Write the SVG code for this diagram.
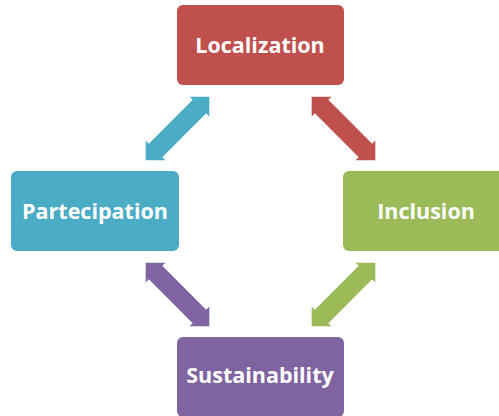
<svg xmlns="http://www.w3.org/2000/svg" width="499" height="416" viewBox="0 0 499 416">
<style>
.lbl{font-family:"Open Sans","Liberation Sans",sans-serif;font-weight:bold;font-size:21.5px;fill:#fff;text-anchor:middle}
</style>
<defs>
<polygon id="arr" points="-45,0 -31,-14 -31,-9.5 31,-9.5 31,-14 45,0 31,14 31,9.5 -31,9.5 -31,14"/>
</defs>
<rect width="499" height="416" fill="#fff"/>
<g id="connectors">
<use href="#arr" fill="#4BACC6" transform="translate(177.5,128.5) rotate(-45)"/>
<use href="#arr" fill="#C0504D" transform="translate(343.5,128.5) rotate(45)"/>
<use href="#arr" fill="#8064A2" transform="translate(177.5,294.5) rotate(45)"/>
<use href="#arr" fill="#9BBB59" transform="translate(343.5,294.5) rotate(-45)"/>
</g>
<g id="localization">
<rect x="177" y="5" width="167" height="80" rx="6" fill="#C0504D"/>
<text class="lbl" x="260" y="53">Localization</text>
</g>
<g id="partecipation">
<rect x="11" y="171" width="168" height="80" rx="6" fill="#4BACC6"/>
<text class="lbl" x="95" y="218.5">Partecipation</text>
</g>
<g id="inclusion">
<rect x="343" y="171" width="167" height="80" rx="6" fill="#9BBB59"/>
<text class="lbl" x="426" y="218.5">Inclusion</text>
</g>
<g id="sustainability">
<rect x="177" y="337" width="167" height="80" rx="6" fill="#8064A2"/>
<text class="lbl" x="260" y="383">Sustainability</text>
</g>
</svg>
